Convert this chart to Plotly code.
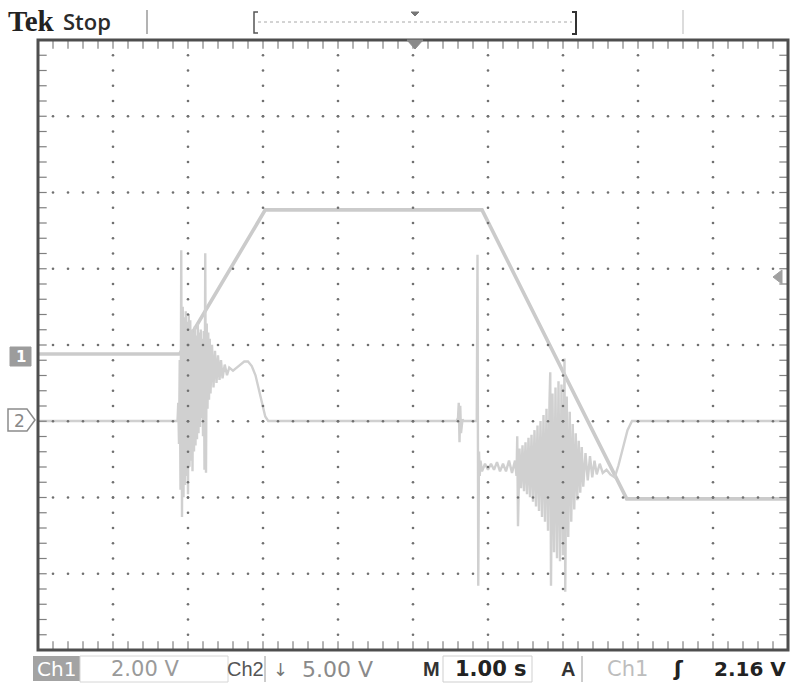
import plotly.graph_objects as go

# ---------------- data (time in s, 1 s/div; volts) ----------------
ch1_t = [-5.00, -3.11, -1.97, 0.92, 2.85, 5.00]
ch1_v = [0.00, 0.00, 3.78, 3.78, -3.80, -3.80]

ch2_t = [-5.00, -3.14, -3.13, -3.12, -3.11, -3.10, -3.09, -3.08, -3.07, -3.06, -3.05,
         -3.04, -3.03, -3.02, -3.01, -3.00, -2.99, -2.98, -2.97, -2.96, -2.95, -2.94,
         -2.93, -2.92, -2.91, -2.90, -2.89, -2.88, -2.87, -2.86, -2.85, -2.84, -2.83,
         -2.82, -2.81, -2.80, -2.79, -2.78, -2.77, -2.76, -2.75, -2.74, -2.73, -2.72,
         -2.71, -2.70, -2.68, -2.66, -2.64, -2.62, -2.60, -2.58, -2.56, -2.54, -2.51,
         -2.48, -2.45, -2.40, -2.35, -2.30, -2.25, -2.20, -2.15, -2.10, -2.05, -2.01,
         -1.97, -1.93,
         0.58, 0.60, 0.61, 0.62, 0.63, 0.64, 0.66, 0.68, 0.85, 0.86, 0.87, 0.88, 0.89,
         0.90, 0.92, 0.96, 1.00, 1.04, 1.08, 1.12, 1.16, 1.20, 1.24, 1.28, 1.32, 1.36,
         1.38, 1.39, 1.40, 1.42, 1.44, 1.46, 1.48, 1.50, 1.52, 1.54, 1.56, 1.58, 1.60,
         1.62, 1.64, 1.66, 1.68, 1.70, 1.72, 1.74, 1.76, 1.78, 1.80, 1.82, 1.83, 1.84,
         1.86, 1.88, 1.90, 1.92, 1.94, 1.96, 1.98, 2.00, 2.02, 2.03, 2.05, 2.07, 2.09,
         2.11, 2.13, 2.15, 2.17, 2.19, 2.21, 2.23, 2.25, 2.27, 2.30, 2.33, 2.36, 2.39,
         2.42, 2.45, 2.49, 2.53, 2.58, 2.63, 2.69, 2.74, 2.80, 2.86, 2.92, 5.00]
ch2_v = [0.0, 0.0, 1.2, -1.5, 4.0, -4.5, 11.2, -6.3, 7.5, -5.0, 6.8,
         -4.2, 7.2, -3.6, 6.5, -4.8, 7.0, -3.0, 6.6, -2.6, 6.0, -3.3,
         5.8, -2.0, 6.2, -1.6, 5.6, -1.2, 6.4, -0.8, 5.8, -0.4, 6.0,
         0.2, 5.4, -1.0, 5.9, -3.2, 11.0, -3.4, 6.4, 0.8, 5.8, 1.4,
         5.4, 1.8, 5.0, 2.2, 4.6, 2.5, 4.3, 2.7, 4.0, 2.8, 3.7,
         3.0, 3.5, 3.3, 3.5, 3.7, 3.9, 3.9, 3.6, 3.0, 2.0, 1.3,
         0.3, 0.0,
         0.0, 0.2, 1.2, -1.4, 1.0, -0.8, 0.1, 0.0, 0.0, 10.9, -10.8, -2.0, -3.6,
         -2.6, -3.3, -2.8, -3.2, -2.8, -3.2, -2.7, -3.3, -2.8, -3.3, -2.6, -3.4, -2.6,
         -3.6, -1.0, -6.9, -1.8, -4.4, -1.6, -4.6, -1.4, -4.8, -1.1, -5.0, -0.9, -5.3,
         -0.6, -5.6, -0.3, -5.9, 0.0, -6.3, 0.4, -6.6, 0.8, -7.2, 1.3, 3.2, -10.8,
         1.8, -8.6, 2.2, -9.0, 2.6, -9.2, 2.4, -8.8, 4.1, -11.2, 1.6, -7.6, 0.6,
         -6.6, -0.2, -5.8, -0.8, -5.2, -1.3, -4.7, -1.7, -4.3, -2.1, -3.9, -2.3, -3.7,
         -2.6, -3.5, -2.8, -3.4, -3.2, -3.5, -3.7, -2.9, -1.7, -0.6, 0.0, 0.0]

H_DIVS = 10
V_DIVS = 8

# ---------------- geometry helpers ----------------
W, H = 795, 685
L, R, T, B = 38, 788, 40, 650


def X(px):
    return (px - L) / (R - L)


def Y(py):
    return (B - py) / (B - T)


fig = go.Figure()

# graticule dots
gx, gy = [], []
for xv in range(-H_DIVS // 2 + 1, H_DIVS // 2):
    for k in range(V_DIVS * 5 + 1):
        gx.append(xv)
        gy.append(-V_DIVS / 2 + 0.2 * k)
for yv in range(-V_DIVS // 2 + 1, V_DIVS // 2):
    for k in range(H_DIVS * 5 + 1):
        gx.append(-H_DIVS / 2 + 0.2 * k)
        gy.append(yv)
fig.add_trace(go.Scatter(x=gx, y=gy, mode="markers", yaxis="y3", hoverinfo="skip",
                         marker=dict(size=2.6, color="#707070")))

# border ticks
tx, ty = [], []
for k in range(H_DIVS * 5 + 1):
    xv = -H_DIVS / 2 + 0.2 * k
    tx += [xv, xv]
    ty += [V_DIVS / 2 - 0.06, -V_DIVS / 2 + 0.06]
fig.add_trace(go.Scatter(x=tx, y=ty, mode="markers", yaxis="y3", hoverinfo="skip",
                         marker=dict(symbol="line-ns", size=6,
                                     line=dict(width=1.2, color="#808080"))))
tx, ty = [], []
for k in range(V_DIVS * 5 + 1):
    yv = -V_DIVS / 2 + 0.2 * k
    tx += [-H_DIVS / 2 + 0.06, H_DIVS / 2 - 0.06]
    ty += [yv, yv]
fig.add_trace(go.Scatter(x=tx, y=ty, mode="markers", yaxis="y3", hoverinfo="skip",
                         marker=dict(symbol="line-ew", size=6,
                                     line=dict(width=1.2, color="#808080"))))

# traces
fig.add_trace(go.Scatter(x=ch2_t, y=ch2_v, mode="lines", yaxis="y2", name="Ch2",
                         line=dict(color="#d0d0d0", width=2.4)))
fig.add_trace(go.Scatter(x=ch1_t, y=ch1_v, mode="lines", yaxis="y", name="Ch1",
                         line=dict(color="#cbcbcb", width=3.6)))

shapes = []
# frame
shapes.append(dict(type="rect", xref="paper", yref="paper", x0=0, x1=1, y0=0, y1=1,
                   line=dict(color="#4e4e4e", width=3)))
# top bar
shapes.append(dict(type="line", xref="paper", yref="paper", x0=X(147), x1=X(147),
                   y0=Y(10), y1=Y(34), line=dict(color="#9a9a9a", width=1.5)))
shapes.append(dict(type="line", xref="paper", yref="paper", x0=X(683), x1=X(683),
                   y0=Y(10), y1=Y(34), line=dict(color="#d0d0d0", width=1.5)))
shapes.append(dict(type="path", xref="paper", yref="paper",
                   path=f"M {X(258)} {Y(12)} L {X(254)} {Y(12)} L {X(254)} {Y(33)} L {X(258)} {Y(33)}",
                   line=dict(color="#555", width=1.5)))
shapes.append(dict(type="path", xref="paper", yref="paper",
                   path=f"M {X(572)} {Y(12)} L {X(576)} {Y(12)} L {X(576)} {Y(34)} L {X(572)} {Y(34)}",
                   line=dict(color="#333", width=2)))
shapes.append(dict(type="line", xref="paper", yref="paper", x0=X(258), x1=X(572),
                   y0=Y(22), y1=Y(22), line=dict(color="#a8a8a8", width=1, dash="dot")))
shapes.append(dict(type="path", xref="paper", yref="paper",
                   path=f"M {X(411)} {Y(12)} L {X(419)} {Y(12)} L {X(415)} {Y(16)} Z",
                   fillcolor="#777", line=dict(color="#777", width=1)))
# trigger position marker
shapes.append(dict(type="path", xref="paper", yref="paper",
                   path=f"M {X(407)} {Y(40)} L {X(423)} {Y(40)} L {X(415)} {Y(49)} Z",
                   fillcolor="#8a8a8a", line=dict(color="#8a8a8a", width=1)))
# trigger level marker
shapes.append(dict(type="path", xref="paper", yref="paper",
                   path=f"M {X(782)} {Y(270)} L {X(782)} {Y(284)} L {X(773)} {Y(277)} Z",
                   fillcolor="#a0a0a0", line=dict(color="#a0a0a0", width=1)))
# channel markers
shapes.append(dict(type="rect", xref="paper", yref="paper", x0=X(10), x1=X(31),
                   y0=Y(366), y1=Y(347), fillcolor="#9c9c9c", line=dict(color="#9c9c9c", width=1)))
shapes.append(dict(type="path", xref="paper", yref="paper",
                   path=f"M {X(8)} {Y(409)} L {X(27)} {Y(409)} L {X(35)} {Y(420)} L {X(27)} {Y(431)} L {X(8)} {Y(431)} Z",
                   fillcolor="white", line=dict(color="#8c8c8c", width=1.5)))
# bottom bar
shapes.append(dict(type="rect", xref="paper", yref="paper", x0=X(33), x1=X(80),
                   y0=Y(681), y1=Y(656), fillcolor="#a3a3a3", line=dict(width=0)))
shapes.append(dict(type="rect", xref="paper", yref="paper", x0=X(80), x1=X(228),
                   y0=Y(682), y1=Y(656), line=dict(color="#d6d6d6", width=1)))
shapes.append(dict(type="line", xref="paper", yref="paper", x0=X(265), x1=X(265),
                   y0=Y(682), y1=Y(656), line=dict(color="#9a9a9a", width=1)))
shapes.append(dict(type="rect", xref="paper", yref="paper", x0=X(443), x1=X(532),
                   y0=Y(682), y1=Y(656), line=dict(color="#cfcfcf", width=1)))
shapes.append(dict(type="line", xref="paper", yref="paper", x0=X(582), x1=X(582),
                   y0=Y(682), y1=Y(656), line=dict(color="#9a9a9a", width=1)))

ann = []


def txt(s, px, py, size, color, family="DejaVu Sans", anchor="center", weight="normal"):
    ann.append(dict(text=s, xref="paper", yref="paper",
                    x=X(px), y=Y(py), xanchor=anchor, yanchor="middle", showarrow=False,
                    font=dict(size=size, color=color, family=family, weight=weight)))


txt("Tek", 6, 21, 29, "#222", family="Liberation Serif", anchor="left", weight="bold")
txt("Stop", 61, 21, 22, "#2b2b2b", family="Open Sans", anchor="left", weight=600)
txt("1", 21, 357, 15, "white", weight="bold")
txt("2", 19, 421, 17, "#888")
txt("Ch1", 56, 669, 20, "white", family="DejaVu Sans")
txt("2.00 V", 145, 669, 21, "#9a9a9a", family="DejaVu Sans")
txt("Ch2", 245, 669, 20, "#555", family="Liberation Sans")
txt("↓", 280, 669, 18, "#777", family="DejaVu Sans")
txt("5.00 V", 337, 669, 22, "#8a8a8a", family="DejaVu Sans")
txt("M", 431, 669, 20, "#333", family="Liberation Sans", weight="bold")
txt("1.00 s", 491, 669, 21, "#222", family="DejaVu Sans", weight="bold")
txt("A", 568, 669, 20, "#333", family="Liberation Sans", weight="bold")
txt("Ch1", 627, 669, 21, "#bdbdbd", family="DejaVu Sans")
txt("ʃ", 678, 669, 21, "#222", family="DejaVu Sans", weight="bold")
txt("2.16 V", 750, 669, 20, "#222", family="DejaVu Sans", weight="bold")

fig.update_layout(
    width=W, height=H,
    margin=dict(l=L, r=W - R, t=T, b=H - B, pad=0),
    paper_bgcolor="white", plot_bgcolor="white",
    showlegend=False,
    xaxis=dict(range=[-H_DIVS / 2, H_DIVS / 2], visible=False, fixedrange=True),
    yaxis=dict(range=[-(B - 354) / 76.25 * 2, (354 - T) / 76.25 * 2], visible=False),
    yaxis2=dict(range=[-(B - 421) / 76.25 * 5, (421 - T) / 76.25 * 5],
                overlaying="y", visible=False),
    yaxis3=dict(range=[-V_DIVS / 2, V_DIVS / 2], overlaying="y", visible=False),
    shapes=shapes, annotations=ann,
)

fig.write_html("out.html")
